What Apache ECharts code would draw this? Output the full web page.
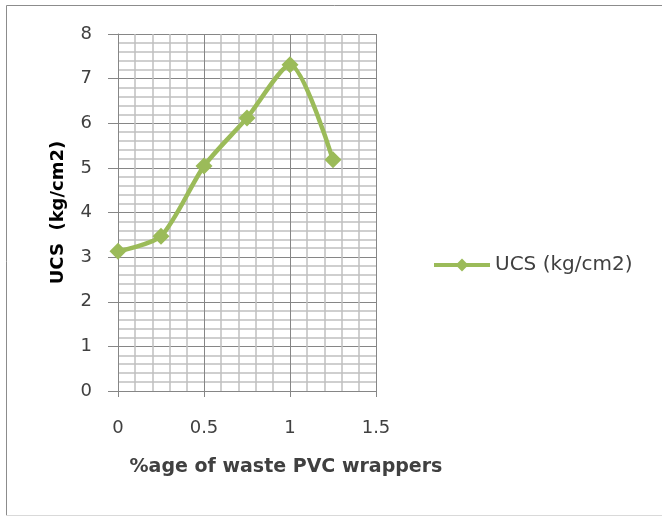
<!DOCTYPE html>
<html><head><meta charset="utf-8">
<script src="https://cdn.jsdelivr.net/npm/echarts@6/dist/echarts.min.js"></script>
<style>html,body{margin:0;padding:0;background:#fff}#c{width:662px;height:516px}</style>
</head><body><div id="c"></div>
<script>
const xValues = [0, 0.25, 0.5, 0.75, 1, 1.25];
const ucsValues = [3.13, 3.47, 5.04, 6.12, 7.31, 5.18];
const seriesName = 'UCS (kg/cm2)';
const xTitle = '%age of waste PVC wrappers';
const yTitle = 'UCS  (kg/cm2)';

const chart = echarts.init(document.getElementById('c'));
const font = '"DejaVu Sans", "Liberation Sans", sans-serif';
chart.setOption({
  animation: false,
  backgroundColor: '#fff',
  graphic: [{
    type: 'polyline', silent: true,
    shape: { points: [[6.5, 520], [6.5, 5.5], [662, 5.5]] },
    style: { stroke: '#8c8c8c', lineWidth: 1, fill: null }
  }, {
    type: 'line', silent: true,
    shape: { x1: 6, y1: 515.5, x2: 662, y2: 515.5 },
    style: { stroke: '#d9d9d9', lineWidth: 1 }
  }],
  grid: { left: 118, top: 34, right: 286, bottom: 125 },
  legend: {
    left: 427, top: 250,
    itemWidth: 56, itemHeight: 16, itemGap: 4,
    lineStyle: { width: 4 },
    textStyle: { fontFamily: font, fontSize: 20, color: '#404040' },
    data: [seriesName]
  },
  xAxis: {
    type: 'value', min: 0, max: 1.5, interval: 0.5,
    name: xTitle, nameLocation: 'middle', nameGap: 67,
    nameTextStyle: { fontFamily: font, fontSize: 19, fontWeight: 'bold', color: '#404040', padding: [0, 0, 0, 78] },
    axisLine: { show: true, lineStyle: { color: '#868686', width: 1 } },
    axisTick: { show: true, inside: false, length: 6, lineStyle: { color: '#868686' } },
    axisLabel: { margin: 28, fontFamily: font, fontSize: 18, color: '#404040' },
    splitLine: { show: true, lineStyle: { color: '#868686', width: 1 } },
    minorTick: { show: false, splitNumber: 5 },
    minorSplitLine: { show: true, lineStyle: { color: '#c0c0c0', width: 1.5 } }
  },
  yAxis: {
    type: 'value', min: 0, max: 8, interval: 1,
    name: yTitle, nameLocation: 'middle', nameGap: 51,
    nameTextStyle: { fontFamily: font, fontSize: 18, fontWeight: 'bold', color: '#000' },
    axisLine: { show: true, lineStyle: { color: '#868686', width: 1 } },
    axisTick: { show: true, inside: false, length: 10, lineStyle: { color: '#868686' } },
    axisLabel: { margin: 26, fontFamily: font, fontSize: 18, color: '#404040' },
    splitLine: { show: true, lineStyle: { color: '#868686', width: 1 } },
    minorTick: { show: false, splitNumber: 5 },
    minorSplitLine: { show: true, lineStyle: { color: '#c0c0c0', width: 1.5 } }
  },
  series: [{
    name: seriesName, type: 'line',
    data: xValues.map((x, i) => [x, ucsValues[i]]),
    smooth: 0.25,
    symbol: 'diamond', symbolSize: 17,
    itemStyle: { color: '#9bbb59' },
    lineStyle: { color: '#9bbb59', width: 4.5 }
  }]
});
</script></body></html>
